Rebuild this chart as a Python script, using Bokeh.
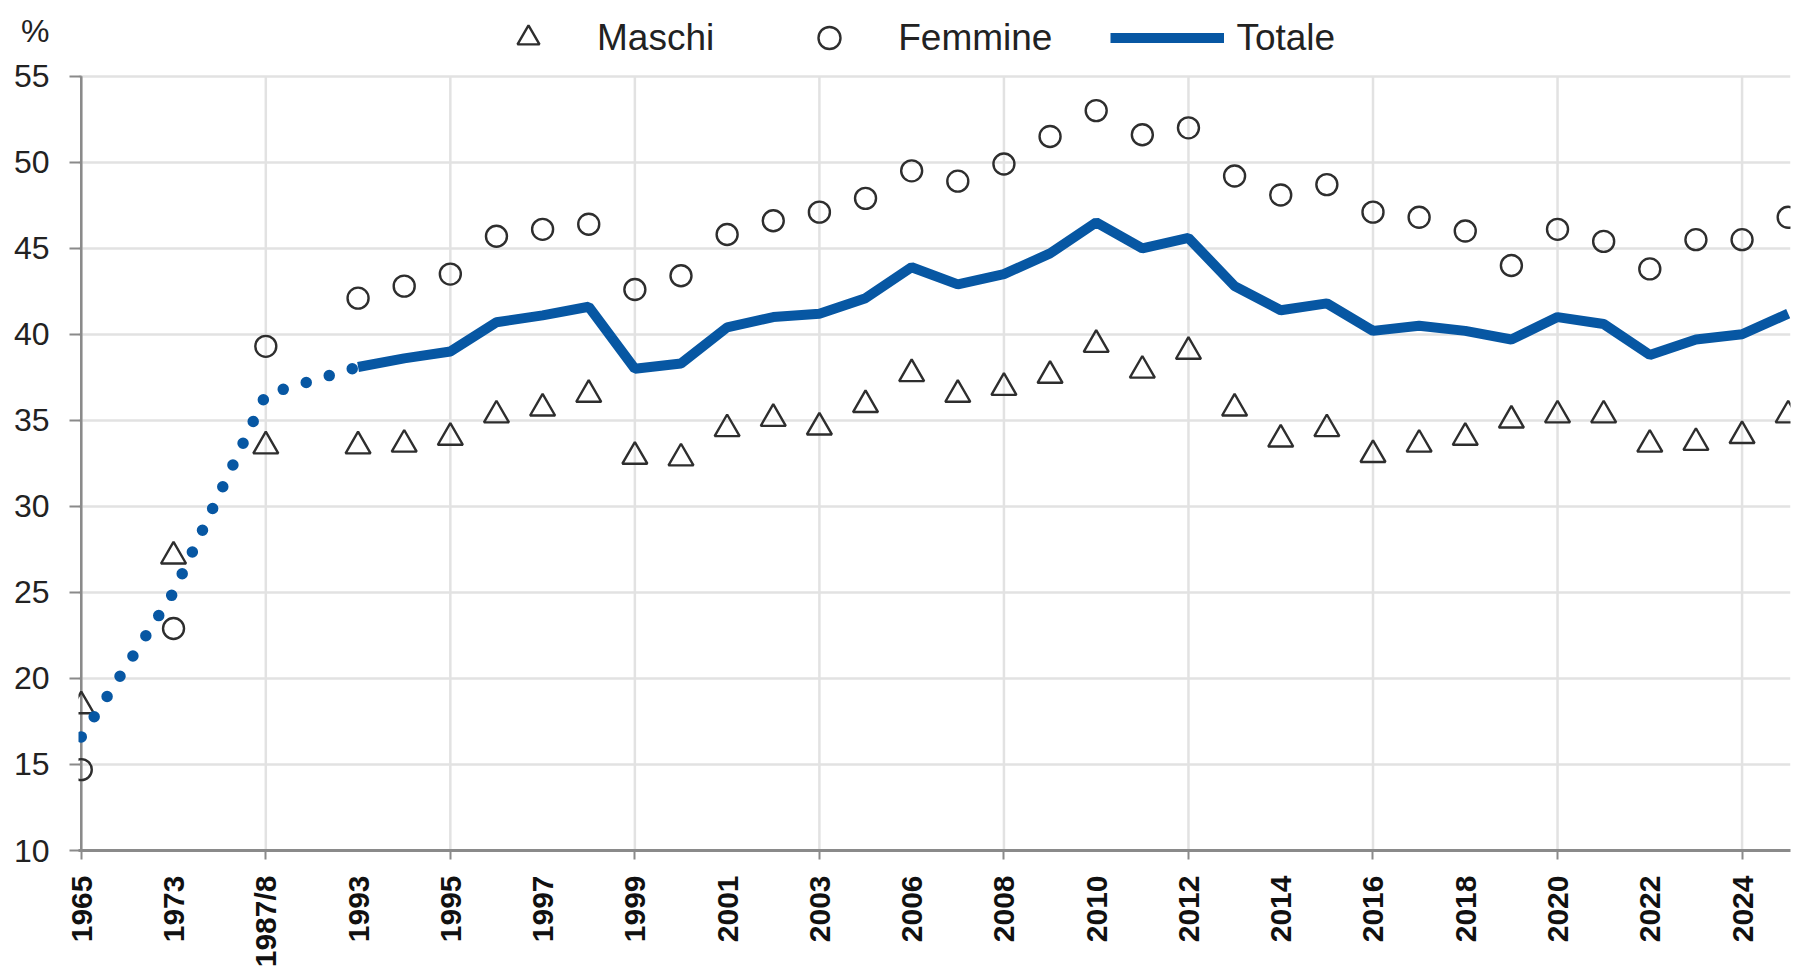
from math import pi
from bokeh.plotting import figure
from bokeh.models import Range1d, FixedTicker, Legend, LegendItem
from bokeh.embed import file_html
from bokeh.resources import INLINE

# ---- data ----
categories = ["1965", "", "1973", "", "1987/8", "", "1993", "1994", "1995", "1996", "1997",
              "1998", "1999", "2000", "2001", "2002", "2003", "2005", "2006", "2007", "2008",
              "2009", "2010", "2011", "2012", "2013", "2014", "2015", "2016", "2017", "2018",
              "2019", "2020", "2021", "2022", "2023", "2024", "2025"]
years = [c for c in categories if c]

maschi = [18.4, 27.1, 33.5,
          33.5, 33.6, 34.0, 35.3, 35.7, 36.5, 32.9, 32.8, 34.5, 35.1, 34.6,
          35.9, 37.7, 36.5, 36.9, 37.6, 39.4, 37.9, 39.0, 35.7, 33.9, 34.5, 33.0,
          33.6, 34.0, 35.0, 35.3, 35.3, 33.6, 33.7, 34.1, 35.3]
femmine = [14.7, 22.9, 39.3,
           42.1, 42.8, 43.5, 45.7, 46.1, 46.4, 42.6, 43.4, 45.8, 46.6, 47.1,
           47.9, 49.5, 48.9, 49.9, 51.5, 53.0, 51.6, 52.0, 49.2, 48.1, 48.7, 47.1,
           46.8, 46.0, 44.0, 46.1, 45.4, 43.8, 45.5, 45.5, 46.8]
totale = [16.6, 25.0, 36.5,
          38.1, 38.6, 39.0, 40.7, 41.1, 41.6, 38.0, 38.3, 40.4, 41.0, 41.2,
          42.1, 43.9, 42.9, 43.5, 44.7, 46.5, 45.0, 45.6, 42.8, 41.4, 41.8, 40.2,
          40.5, 40.2, 39.7, 41.0, 40.6, 38.8, 39.7, 40.0, 41.2]
y_ticks = [10, 15, 20, 25, 30, 35, 40, 45, 50, 55]
unit_label = "%"
n_dotted = 4  # first points (1965 .. 1993) joined by a dotted line

x = [categories.index(yr) for yr in years]

# ---- layout / style ----
Y_TOP = 59.4        # frame extends above 55 to hold the legend and the unit label
UNIT_Y = 57.6       # where the "%" sits
BLUE = "#0757a3"
MARK = "#2e2e2e"
GRID = "#e2e2e2"
AXIS = "#8a8a8a"
FONT = "'Liberation Sans', Arial, sans-serif"

p = figure(width=1815, height=970, output_backend="svg", toolbar_location=None,
           x_range=Range1d(-0.06, len(categories) - 1 + 0.05),
           y_range=Range1d(y_ticks[0], Y_TOP),
           min_border_left=78, min_border_right=25, min_border_top=0, min_border_bottom=115)
p.outline_line_color = None
p.background_fill_color = "white"
p.border_fill_color = "white"

# horizontal grid
p.ygrid.ticker = FixedTicker(ticks=y_ticks)
p.ygrid.grid_line_color = GRID
p.ygrid.grid_line_width = 2.5
p.xgrid.grid_line_color = None

# vertical grid lines every 4 categories, limited to the 10-55 band
vg = list(range(0, len(categories), 4))
p.segment(x0=vg, y0=[y_ticks[0]] * len(vg), x1=vg, y1=[y_ticks[-1]] * len(vg),
          line_color=GRID, line_width=2.5)
# y axis line (only up to 55)
p.segment(x0=[0], y0=[y_ticks[0]], x1=[0], y1=[y_ticks[-1]], line_color=AXIS, line_width=2.5)

# y axis: labels at 10..55 plus the "%" unit label on top
p.yaxis.ticker = FixedTicker(ticks=y_ticks + [UNIT_Y], minor_ticks=y_ticks)
p.yaxis.major_label_overrides = {UNIT_Y: unit_label}
p.yaxis.axis_line_color = None
p.yaxis.major_tick_line_color = None
p.yaxis.major_tick_out = 9
p.yaxis.major_tick_in = 0
p.yaxis.minor_tick_line_color = AXIS
p.yaxis.minor_tick_line_width = 2
p.yaxis.minor_tick_out = 9
p.yaxis.minor_tick_in = 3
p.yaxis.major_label_text_font = FONT
p.yaxis.major_label_text_font_size = "32px"
p.yaxis.major_label_text_color = "#222222"
p.yaxis.major_label_standoff = 20

# x axis
p.xaxis.ticker = FixedTicker(ticks=list(range(0, len(categories), 2)),
                             minor_ticks=list(range(0, len(categories), 4)))
p.xaxis.major_label_overrides = {i: categories[i] for i in range(0, len(categories), 2)}
p.xaxis.axis_line_color = AXIS
p.xaxis.axis_line_width = 3
p.xaxis.major_tick_line_color = None
p.xaxis.major_tick_out = 9
p.xaxis.major_tick_in = 0
p.xaxis.minor_tick_line_color = AXIS
p.xaxis.minor_tick_line_width = 2
p.xaxis.minor_tick_out = 9
p.xaxis.minor_tick_in = 0
p.xaxis.major_label_orientation = pi / 2
p.xaxis.major_label_text_font = FONT
p.xaxis.major_label_text_font_style = "bold"
p.xaxis.major_label_text_font_size = "30px"
p.xaxis.major_label_text_color = "#111111"
p.xaxis.major_label_standoff = 16

# data
r_m = p.scatter(x, maschi, marker="triangle", size=25, fill_color="white", fill_alpha=0,
                line_color=MARK, line_width=2.4)
r_f = p.scatter(x, femmine, marker="circle", size=21, fill_color="white", fill_alpha=0,
                line_color=MARK, line_width=2.4)
p.line(x[:n_dotted], totale[:n_dotted], line_color=BLUE, line_width=11.5,
       line_dash="0 24", line_cap="round")
r_t = p.line(x[n_dotted - 1:], totale[n_dotted - 1:], line_color=BLUE, line_width=10)

legend = Legend(items=[LegendItem(label="Maschi", renderers=[r_m]),
                       LegendItem(label="Femmine", renderers=[r_f]),
                       LegendItem(label="Totale", renderers=[r_t])],
                orientation="horizontal", location=(393, 785),
                border_line_color=None, background_fill_alpha=0,
                label_text_font=FONT, label_text_font_size="37px",
                label_text_color="#222222",
                glyph_width=114, glyph_height=55, label_standoff=12,
                spacing=58, padding=2, margin=0)
p.add_layout(legend, "center")

open("out.html", "w").write(file_html(p, INLINE))
